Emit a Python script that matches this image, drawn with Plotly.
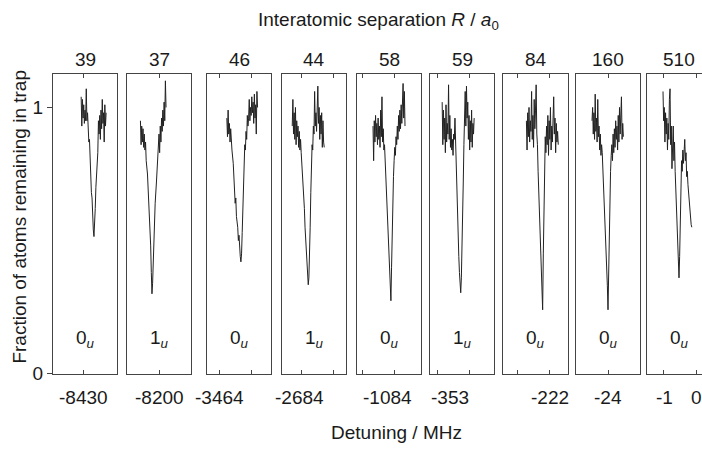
import plotly.graph_objects as go

# ---------------- data ----------------
separations = ["39", "37", "46", "44", "58", "59", "84", "160", "510"]
states = ["0", "1", "0", "1", "0", "1", "0", "0", "0"]
detuning_labels = [["-8430"], ["-8200"], ["-3464"], ["-2684"], ["-1084"], ["-353"],
                   ["-222"], ["-24"], ["-1", "0"]]
label_pos = [[48], [50], [19], [27], [48], [31], [73], [50], [28, 78]]
tick_pos = [[48], [50], [20, 70], [31, 80], [9, 59], [11, 61], [22, 71], [50], [25, 78]]

P1_X = [44, 45, 46, 47, 48, 49, 50, 51, 52, 53, 54, 55, 56, 57, 58, 59, 60, 61, 62, 63,
        64, 65, 66, 67, 68, 69, 70, 71, 72, 73, 74, 75, 76, 77, 78, 79, 80, 81, 82, 83]
P1_Y = [1.04, 0.93, 1.03, 0.96, 1.01, 0.94, 0.99, 0.95, 1.07, 0.95, 0.98, 0.90, 0.87, 0.88,
        0.80, 0.74, 0.68, 0.66, 0.58, 0.54, 0.515, 0.55, 0.62, 0.70, 0.75, 0.80, 0.83, 0.95,
        0.90, 0.97, 0.88, 0.99, 0.92, 1.03, 0.94, 0.98, 0.87, 1.01, 0.93, 0.98]

P2_X = [21, 22, 23, 24, 25, 26, 27, 28, 29, 30, 32, 34, 36, 37, 38, 39, 40, 41, 42, 43,
        44, 46, 48, 49, 50, 51, 52, 53, 54, 55, 56, 57, 58, 59, 60, 61]
P2_Y = [0.95, 0.86, 0.93, 0.87, 0.92, 0.85, 0.90, 0.84, 0.87, 0.80, 0.75, 0.66, 0.56, 0.48,
        0.38, 0.30, 0.34, 0.42, 0.50, 0.59, 0.64, 0.72, 0.79, 0.84, 0.90, 0.83, 0.93, 0.87,
        0.96, 0.91, 0.99, 0.93, 1.02, 0.95, 1.10, 1.00]

P3_X = [31, 32, 33, 34, 35, 36, 37, 38, 39, 41, 43, 44, 45, 46, 48, 49, 50, 51, 52, 53,
        54, 55, 56, 57, 58, 59, 60, 61, 62, 63, 64, 65, 66, 67, 68, 69, 70, 71, 72, 73,
        74, 75, 76, 77, 78, 79]
P3_Y = [0.96, 0.89, 0.99, 0.90, 0.94, 0.87, 0.92, 0.86, 0.84, 0.79, 0.70, 0.64, 0.66, 0.59,
        0.55, 0.50, 0.52, 0.46, 0.44, 0.42, 0.45, 0.53, 0.62, 0.70, 0.78, 0.86, 0.84, 0.91,
        0.88, 0.97, 0.93, 0.96, 1.03, 0.95, 1.00, 0.97, 1.04, 0.98, 1.02, 0.94, 1.05, 0.96,
        1.01, 0.90, 1.06, 1.00]

P4_X = [16, 17, 18, 19, 20, 21, 22, 23, 24, 25, 26, 27, 28, 29, 30, 31, 32, 34, 35, 36,
        37, 38, 39, 40, 41, 42, 43, 44, 45, 46, 47, 48, 49, 50, 51, 52, 53, 54, 55, 56,
        57, 58, 59, 60, 61, 62, 63, 64, 65, 66]
P4_Y = [0.93, 1.03, 0.90, 0.98, 0.88, 1.00, 0.86, 0.95, 0.89, 0.93, 0.85, 0.91, 0.84, 0.88,
        0.83, 0.79, 0.77, 0.68, 0.62, 0.55, 0.50, 0.44, 0.38, 0.35, 0.334, 0.36, 0.43, 0.55,
        0.68, 0.80, 0.86, 0.84, 0.93, 0.90, 1.06, 0.93, 0.98, 0.91, 1.02, 1.08, 0.94, 1.00,
        0.88, 0.97, 0.90, 0.98, 0.85, 0.95, 0.87, 0.85]

P5_X = [25, 26, 27, 28, 29, 30, 31, 32, 33, 34, 35, 36, 37, 38, 39, 40, 41, 42, 43, 44,
        45, 46, 47, 48, 49, 50, 51, 52, 53, 54, 55, 56, 57, 58, 59, 60, 61, 62, 63, 64,
        65, 66, 67, 68, 69, 70, 71, 72, 73, 74, 75]
P5_Y = [0.93, 0.80, 0.95, 0.87, 0.97, 0.89, 0.94, 0.86, 0.96, 0.88,
        0.93, 0.85, 0.99, 0.89, 1.04, 0.87, 0.92, 0.84, 0.86, 0.80,
        0.77, 0.70, 0.64, 0.58, 0.52, 0.45, 0.38, 0.32, 0.274, 0.40,
        0.56, 0.66, 0.74, 0.80, 0.85, 0.82, 0.89, 0.86, 0.93, 0.88,
        0.97, 0.91, 0.99, 0.92, 1.01, 0.94, 1.04, 1.09, 0.96, 1.06, 0.93]

P6_X = [19, 20, 21, 22, 23, 24, 25, 26, 27, 28, 29, 30, 31, 32, 33, 34, 35, 36, 37, 38,
        39, 40, 41, 42, 43, 44, 45, 46, 47, 48, 49, 50, 51, 52, 53, 54, 55, 56, 57, 58,
        59, 60, 61, 62, 63, 64, 65, 66, 67, 68, 69]
P6_Y = [1.02, 0.86, 0.99, 0.88, 0.96, 0.83, 1.01, 0.87, 0.94, 0.90,
        1.085, 0.88, 0.97, 0.85, 0.92, 0.84, 0.88, 0.82, 0.90, 0.88,
        0.96, 0.86, 0.80, 0.71, 0.62, 0.53, 0.44, 0.38, 0.33, 0.304,
        0.36, 0.45, 0.56, 0.72, 0.86, 0.98, 1.06, 0.93, 1.08, 0.96,
        1.02, 0.88, 0.97, 0.84, 0.95, 0.87, 0.99, 0.85, 0.94, 0.90, 0.96]

P7_X = [36, 37, 38, 39, 40, 41, 42, 43, 44, 45, 46, 47, 48, 49, 50, 51, 52, 53, 54, 55,
        56, 57, 58, 59, 60, 61, 62, 63, 64, 65, 66, 67, 68, 69, 70, 71, 72, 73, 74, 75,
        76, 77, 78, 79, 80, 81, 82, 83, 84, 85]
P7_Y = [0.95, 0.84, 0.98, 0.89, 1.00, 0.87, 0.95, 0.91, 1.06, 0.88,
        0.97, 0.85, 1.03, 0.92, 0.99, 1.085, 0.90, 0.86, 0.76, 0.68,
        0.60, 0.52, 0.46, 0.40, 0.32, 0.24, 0.45, 0.65, 0.80, 0.89,
        0.83, 0.93, 0.86, 0.97, 0.82, 0.95, 0.88, 1.00, 0.84, 0.93,
        0.87, 0.98, 1.04, 0.90, 0.96, 0.83, 0.94, 0.87, 0.91, 0.86]

P8_X = [25, 26, 27, 28, 29, 30, 31, 32, 33, 34, 35, 36, 37, 38, 39, 40, 41, 42, 43, 44,
        45, 46, 47, 48, 49, 50, 51, 52, 53, 54, 55, 56, 57, 58, 59, 60, 61, 62, 63, 64,
        65, 66, 67, 68, 69, 70, 71, 72, 73, 74]
P8_Y = [0.95, 1.00, 0.90, 0.98, 0.88, 1.05, 0.91, 0.96, 0.87, 1.03,
        0.89, 0.93, 0.84, 0.90, 0.82, 0.86, 0.83, 0.77, 0.70, 0.66,
        0.62, 0.55, 0.50, 0.42, 0.33, 0.24, 0.40, 0.58, 0.68, 0.76,
        0.82, 0.86, 0.80, 0.90, 0.83, 0.92, 0.85, 0.95, 0.88, 0.93,
        0.84, 0.97, 0.87, 1.00, 0.90, 0.96, 1.04, 0.88, 0.94, 0.89]

P9_X = [25, 26, 27, 28, 29, 30, 31, 32, 33, 34, 35, 36, 37, 38, 39, 40, 41, 42, 43, 44,
        45, 46, 47, 48, 49, 50, 51, 52, 53, 54, 55, 56, 57, 58, 59, 60, 61, 62, 63, 64,
        65, 66, 67, 68, 69, 70]
P9_Y = [1.06, 0.95, 1.00, 0.87, 0.98, 0.90, 0.96, 0.84, 0.94, 0.88,
        1.03, 1.07, 0.86, 0.93, 0.77, 0.90, 0.93, 0.80, 0.87, 0.76,
        0.70, 0.62, 0.55, 0.48, 0.42, 0.36, 0.44, 0.56, 0.72, 0.80,
        0.76, 0.84, 0.79, 0.86, 0.88, 0.80, 0.83, 0.74, 0.76, 0.71,
        0.68, 0.64, 0.60, 0.58, 0.56, 0.55]

XS = [P1_X, P2_X, P3_X, P4_X, P5_X, P6_X, P7_X, P8_X, P9_X]
YS = [P1_Y, P2_Y, P3_Y, P4_Y, P5_Y, P6_Y, P7_Y, P8_Y, P9_Y]

# ---------------- layout ----------------
W, H = 702, 453
panels_px = [(53, 117), (127, 191), (207, 271), (282, 346), (357, 421),
             (430, 494), (503, 568), (576, 640), (647, 711)]
top_px, bot_px = 76, 383
FONT = "Arial, Liberation Sans, Helvetica, sans-serif"
TXT = "#1a1a1a"
LINE = "#444444"
FS = 19

fig = go.Figure()
layout = dict(width=W, height=H, margin=dict(l=0, r=0, t=0, b=0),
              paper_bgcolor="white", plot_bgcolor="white", showlegend=False,
              font=dict(family=FONT, size=FS, color=TXT))
annotations = []
ydom = [1 - bot_px / H, 1 - top_px / H]

for i in range(9):
    n = i + 1
    l, r = panels_px[i]
    pw = r - l
    rr = min(r, W)
    xmax = (rr - l) / pw * 100.0
    xa = "xaxis" if n == 1 else f"xaxis{n}"
    ya = "yaxis" if n == 1 else f"yaxis{n}"
    xr = "x" if n == 1 else f"x{n}"
    yr = "y" if n == 1 else f"y{n}"
    layout[xa] = dict(domain=[l / W, rr / W], range=[0, xmax], anchor=yr,
                      showline=True, linecolor=LINE, linewidth=1, mirror="ticks",
                      ticks="inside", ticklen=4, tickcolor=LINE, tickwidth=1,
                      tickvals=tick_pos[i], showticklabels=False,
                      showgrid=False, zeroline=False, fixedrange=True)
    yd = dict(domain=ydom, range=[0, 1.125], anchor=xr,
              showline=True, linecolor=LINE, linewidth=1,
              mirror=(i != 8), showgrid=False, zeroline=False, fixedrange=True)
    if n == 1:
        yd.update(ticks="outside", ticklen=5, tickcolor=LINE, tickvals=[0, 1],
                  ticktext=["0", "1"], tickfont=dict(size=FS, color=TXT, family=FONT))
    else:
        yd.update(ticks="", showticklabels=False)
    layout[ya] = yd

    fig.add_trace(go.Scatter(x=XS[i], y=YS[i], mode="lines", xaxis=xr, yaxis=yr,
                             line=dict(color="#222222", width=1), hoverinfo="skip"))

    annotations.append(dict(x=50, xref=xr, y=1 - 61 / H, yref="paper",
                            text=separations[i], showarrow=False,
                            xanchor="center", yanchor="middle",
                            font=dict(size=FS, color=TXT, family=FONT)))
    annotations.append(dict(x=50, xref=xr, y=1 - 347 / H, yref="paper",
                            text=f"{states[i]}<sub><i>u</i></sub>", showarrow=False,
                            xanchor="center", yanchor="middle",
                            font=dict(size=FS, color=TXT, family=FONT)))
    for t, p in zip(detuning_labels[i], label_pos[i]):
        annotations.append(dict(x=p, xref=xr, y=1 - 407 / H, yref="paper",
                                text=t, showarrow=False,
                                xanchor="center", yanchor="middle",
                                font=dict(size=FS, color=TXT, family=FONT)))

annotations.append(dict(x=378 / W, y=1 - 22 / H, xref="paper", yref="paper",
                        text="Interatomic separation <i>R</i> / <i>a</i><sub>0</sub>",
                        showarrow=False, xanchor="center", yanchor="middle",
                        font=dict(size=FS, color=TXT, family=FONT)))
annotations.append(dict(x=396 / W, y=1 - 443 / H, xref="paper", yref="paper",
                        text="Detuning / MHz", showarrow=False,
                        xanchor="center", yanchor="middle",
                        font=dict(size=FS, color=TXT, family=FONT)))
annotations.append(dict(x=20 / W, y=1 - 222 / H, xref="paper", yref="paper",
                        text="Fraction of atoms remaining in trap", textangle=-90,
                        showarrow=False, xanchor="center", yanchor="middle",
                        font=dict(size=FS, color=TXT, family=FONT)))

layout["annotations"] = annotations
fig.update_layout(**layout)
fig.write_html("out.html", config={"displayModeBar": False},
               post_script="document.body.style.margin='0px';document.body.style.overflow='hidden';")
